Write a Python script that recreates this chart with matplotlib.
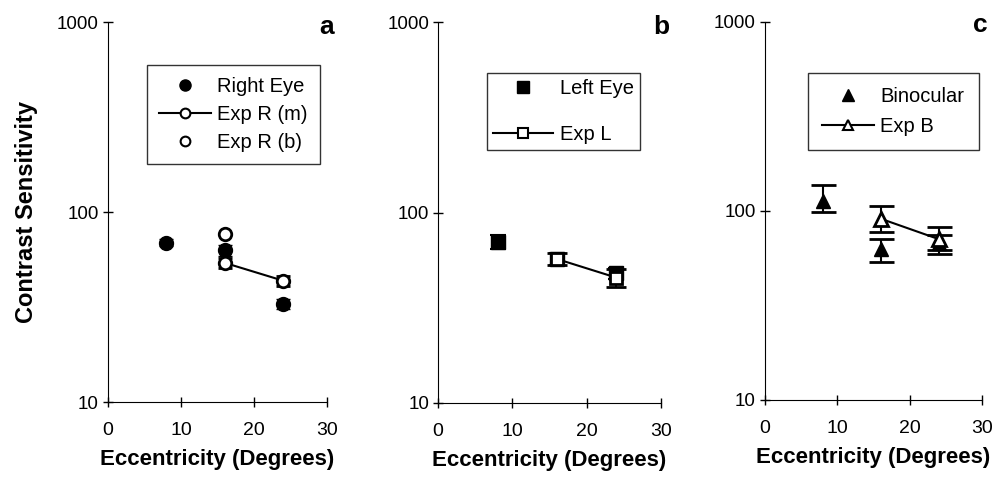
import numpy as np
import matplotlib.pyplot as plt
from matplotlib.lines import Line2D

plt.rcParams['font.family'] = ['Liberation Sans', 'DejaVu Sans']

# panel a
ecc_r = [8, 16, 24]
right_eye = [69, 63, 33]
right_err = [3, 4, 2]
ecc_exp = [16, 24]
exp_rm = [54, 43.5]
exp_rm_err = [3, 2.5]
exp_rb_x = [16]
exp_rb = [77]

# panel b
ecc_l = [8, 16, 24]
left_eye = [70, 57, 48]
left_err = [6, 4, 3]
exp_l = [57, 45.5]
exp_l_err = [4, 5]

# panel c
ecc_b = [8, 16, 24]
binoc = [113, 63, 68]
binoc_lo = [14, 9, 6]
binoc_hi = [24, 8, 7]
exp_b = [91, 71]
exp_b_lo = [14, 12]
exp_b_hi = [15, 11]

fig = plt.figure(figsize=(10.01, 4.84), dpi=100)
ax1 = fig.add_axes([0.1079, 0.1694, 0.2188, 0.785])
ax2 = fig.add_axes([0.4376, 0.1674, 0.2228, 0.787])
ax3 = fig.add_axes([0.7642, 0.1736, 0.2168, 0.781])

for ax in (ax1, ax2, ax3):
    ax.set_yscale('log')
    ax.set_ylim(10, 1000)
    ax.set_xlim(0, 30)
    ax.set_xticks([0, 10, 20, 30])
    ax.set_yticks([10, 100, 1000])
    ax.set_yticklabels(['10', '100', '1000'])
    ax.minorticks_off()
    ax.spines['top'].set_visible(False)
    ax.spines['right'].set_visible(False)
    ax.tick_params(direction='inout', length=7, width=1)
    ax.tick_params(axis='x', pad=11, labelsize=14)
    ax.tick_params(axis='y', pad=3, labelsize=13.5)
    ax.set_xlabel('Eccentricity (Degrees)', labelpad=7, fontsize=16, fontweight='bold')

ax1.set_ylabel('Contrast Sensitivity', labelpad=14, fontsize=17, fontweight='bold')

legkw = dict(loc='upper left', frameon=True, fancybox=False, edgecolor='black',
             fontsize=14.5, handletextpad=0.3, borderaxespad=0,
             bbox_transform=fig.transFigure)

# a
ax1.errorbar(ecc_r, right_eye, yerr=right_err, fmt='o', color='black', ms=10,
             capsize=5, elinewidth=1.5)
ax1.errorbar(ecc_exp, exp_rm, yerr=exp_rm_err, fmt='-o', color='black', ms=9,
             mfc='white', mew=2, capsize=5, elinewidth=1.5, lw=1.5)
ax1.plot(exp_rb_x, exp_rb, 'o', color='black', ms=9, mfc='white', mew=2)
h = [Line2D([], [], marker='o', ls='none', color='black', ms=8),
     Line2D([], [], marker='o', ls='-', color='black', ms=7, mfc='white', mew=1.5),
     Line2D([], [], marker='o', ls='none', color='black', ms=7, mfc='white', mew=1.5)]
leg = ax1.legend(h, ['Right Eye', 'Exp R (m)', 'Exp R (b)'],
                 bbox_to_anchor=(147 / 1001, 1 - 65 / 484), handlelength=2.6,
                 borderpad=0.6, labelspacing=0.45, **legkw)
leg.get_frame().set_linewidth(1)

# b
ax2.errorbar(ecc_l, left_eye, yerr=left_err, fmt='s', color='black', ms=10,
             capsize=6, elinewidth=1.5, capthick=1.5)
ax2.errorbar(ecc_exp, exp_l, yerr=exp_l_err, fmt='-s', color='black', ms=9,
             mfc='white', mew=2, capsize=7, elinewidth=1.5, capthick=1.5, lw=1.5)
h = [Line2D([], [], marker='s', ls='none', color='black', ms=8),
     Line2D([], [], marker='s', ls='-', color='black', ms=7, mfc='white', mew=1.5)]
leg = ax2.legend(h, ['Left Eye', 'Exp L'],
                 bbox_to_anchor=(487 / 1001, 1 - 73 / 484), handlelength=3.0,
                 borderpad=0.3, labelspacing=1.35, **legkw)
leg.get_frame().set_linewidth(1)

# c
ax3.errorbar(ecc_b, binoc, yerr=[binoc_lo, binoc_hi], fmt='^', color='black', ms=10,
             capsize=9, elinewidth=1.5, capthick=2)
ax3.errorbar(ecc_exp, exp_b, yerr=[exp_b_lo, exp_b_hi], fmt='-^', color='black', ms=10,
             mfc='white', mew=2, capsize=9, elinewidth=1.5, capthick=2, lw=1.5)
h = [Line2D([], [], marker='^', ls='none', color='black', ms=8),
     Line2D([], [], marker='^', ls='-', color='black', ms=7, mfc='white', mew=1.5)]
leg = ax3.legend(h, ['Binocular', 'Exp B'],
                 bbox_to_anchor=(808 / 1001, 1 - 73 / 484), handlelength=2.6,
                 borderpad=0.7, labelspacing=0.55, **legkw)
leg.get_frame().set_linewidth(1)

fig.text(327 / 1001, 1 - 27 / 484, 'a', ha='center', va='center', fontsize=19, fontweight='bold')
fig.text(661 / 1001, 1 - 27 / 484, 'b', ha='center', va='center', fontsize=19, fontweight='bold')
fig.text(980 / 1001, 1 - 25 / 484, 'c', ha='center', va='center', fontsize=19, fontweight='bold')

fig.savefig('out.png', dpi=100)
